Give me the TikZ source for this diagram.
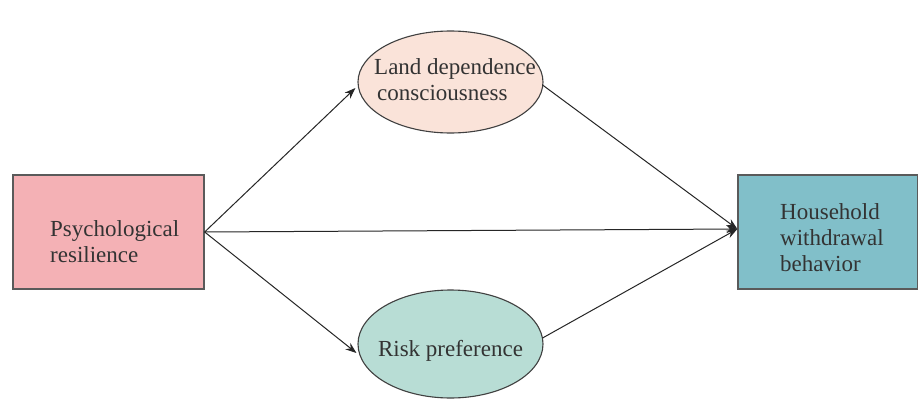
\documentclass[tikz,border=0pt]{standalone}
\usepackage{fontspec}
\setmainfont{Liberation Serif}
\usetikzlibrary{shapes.geometric,arrows.meta}
\definecolor{pinkfill}{HTML}{F4B1B5}
\definecolor{peachfill}{HTML}{FAE3D9}
\definecolor{mintfill}{HTML}{B8DDD5}
\definecolor{tealfill}{HTML}{81BFC9}
\definecolor{edgegray}{HTML}{5A5A5A}
\definecolor{txt}{HTML}{333333}
\tikzset{
  x=1pt,y=1pt,
  lbl/.style={inner sep=0pt,font=\fontsize{23}{26}\selectfont,text=txt,align=left},
  boxnode/.style={draw=edgegray,line width=1.3pt,rectangle,inner sep=0pt},
  ellnode/.style={draw=black!75,line width=1.1pt,ellipse,inner sep=0pt},
  conn/.style={draw=black!85,line width=1pt,-{Stealth[length=11pt,width=8pt]}}
}
\begin{document}
\begin{tikzpicture}
\useasboundingbox[fill=white] (0,0) rectangle (918,400);
\node[boxnode,fill=pinkfill,minimum width=191pt,minimum height=114pt] (psy) at (108.5,168) {};
\node[boxnode,fill=tealfill,minimum width=180pt,minimum height=114pt] (hh) at (828,168) {};
\node[ellnode,fill=peachfill,minimum width=185pt,minimum height=102pt] (land) at (450.5,318) {};
\node[ellnode,fill=mintfill,minimum width=185pt,minimum height=108pt] (risk) at (450.5,56) {};
\node[lbl,anchor=west] (psyt) at (50,158) {Psychological\\resilience};
\node[lbl,anchor=west] (hht) at (780,162) {Household\\withdrawal\\behavior};
\node[lbl,anchor=west] (landt) at (374,320) {Land dependence\\\hspace*{3pt}consciousness};
\node[lbl] (riskt) at (450.5,49) {Risk preference};
\coordinate (hinm) at ([yshift=3pt]hh.west);
\coordinate (landin) at ([shift={(-2pt,-6pt)}]land.west);
\coordinate (riskin) at ([shift={(-1pt,-9pt)}]risk.west);
\coordinate (landout) at ([shift={(-1pt,-3pt)}]land.east);
\coordinate (riskout) at ([shift={(-1pt,6pt)}]risk.east);
\draw[conn] (psy.east) -- (landin);
\draw[conn] (psy.east) -- (riskin);
\draw[conn] (psy.east) -- (hinm);
\draw[conn] (landout) -- (hinm);
\draw[conn] (riskout) -- (hinm);
\end{tikzpicture}
\end{document}
